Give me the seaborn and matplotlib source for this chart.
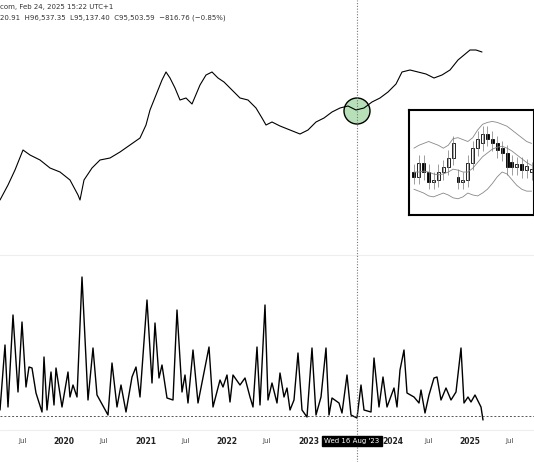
import numpy as np
import matplotlib.pyplot as plt
import seaborn as sns
from matplotlib.patches import Ellipse, Rectangle

sns.set_theme(style="white")
plt.rcParams['font.family'] = ['DejaVu Sans']

W, H = 534, 462

# price path (x pixel, y pixel)
price_x = [0, 8, 15, 23, 30, 40, 50, 60, 70, 78, 80, 84, 92, 100, 110, 120, 130, 140, 146, 150, 156, 162, 166, 170,
           175, 180, 186, 192, 200, 206, 212, 218, 224, 232, 240, 248, 256, 262, 266, 272, 280, 290, 300, 308,
           316, 324, 332, 340, 348, 356, 364, 372, 380, 388, 396, 402, 410, 418, 426, 434, 442, 450, 458, 464,
           470, 476, 482]
price_y = [200, 185, 170, 150, 155, 160, 168, 172, 180, 195, 200, 180, 168, 160, 158, 152, 145, 138, 125, 110, 95,
           80, 72, 78, 88, 100, 98, 104, 85, 75, 72, 78, 82, 90, 98, 100, 108, 118, 125, 122, 126, 130, 134, 130,
           122, 118, 112, 108, 106, 110, 108, 102, 98, 92, 84, 72, 70, 72, 74, 78, 75, 70, 60, 55, 50, 50, 52]

# oscillator
osc_x = [0, 5, 8, 13, 18, 22, 26, 29, 32, 36, 42, 44, 47, 51, 54, 56, 62, 68, 70, 73, 77, 82, 88, 93, 97, 108, 112,
         117, 121, 126, 132, 136, 140, 147, 152, 155, 159, 162, 167, 173, 177, 182, 185, 188, 193, 198, 209, 213,
         220, 223, 227, 230, 233, 240, 245, 250, 253, 257, 260, 265, 268, 272, 277, 280, 284, 287, 290, 294,
         298, 302, 307, 312, 316, 321, 326, 329, 332, 339, 342, 347, 351, 357, 361, 364, 371, 374, 379, 383,
         387, 394, 397, 400, 404, 407, 414, 419, 421, 425, 429, 434, 437, 441, 446, 451, 456, 461, 464, 468,
         471, 475, 481, 483]
osc_y = [410, 345, 407, 315, 392, 322, 387, 367, 368, 393, 412, 357, 410, 372, 405, 368, 407, 372, 397, 385, 397,
         277, 400, 348, 395, 415, 363, 407, 385, 412, 377, 367, 397, 300, 383, 323, 378, 365, 398, 400, 310, 392,
         375, 403, 350, 403, 347, 407, 380, 387, 375, 402, 375, 385, 378, 397, 407, 347, 405, 305, 400, 383, 403,
         373, 397, 388, 410, 400, 353, 410, 417, 348, 415, 397, 348, 415, 398, 403, 413, 375, 415, 418, 385, 410,
         412, 358, 407, 377, 407, 388, 407, 370, 350, 393, 397, 403, 390, 413, 395, 378, 377, 400, 388, 400, 392,
         348, 403, 397, 402, 395, 407, 420]

years = ["2020", "2021", "2022", "2023", "2024", "2025"]
year_px = [64, 146, 227, 309, 393, 470]
jul_px = [23, 104, 186, 267, 429, 510]

# inset candles (open, close) and bands in inset units
c_open = [4, 3.5, 5, 4, 3, 3.2, 4, 4.5, 5.5, 3.5, 3, 3.2, 5, 6.5, 7, 8, 7.5, 7, 6.5, 6, 5, 4.5, 4.8, 4.2, 4]
c_close = [3.5, 5, 4, 3, 3.2, 4, 4.5, 5.5, 7, 3, 3.2, 5, 6.5, 7.5, 8, 7.5, 7, 6.3, 6, 4.5, 4.5, 4.8, 4.2, 4.6, 4.3]
upper = [6.5, 6.8, 7, 7.2, 7, 6.8, 6.5, 6.8, 7.5, 7.6, 7.4, 7.2, 7.6, 8.4, 9, 9.2, 9.3, 9.2, 9, 8.8, 8.4, 8, 7.6, 7.2, 7]
middle = [4, 4, 4.1, 4, 3.8, 3.7, 3.8, 4, 4.3, 4.2, 4, 4, 4.4, 5, 5.6, 6, 6.4, 6.6, 6.7, 6.5, 6.2, 5.8, 5.4, 5, 4.7]
lower = [2.2, 2, 1.8, 1.5, 1.4, 1.6, 1.8, 1.6, 1.3, 1.2, 1.4, 1.8, 1.6, 1.5, 1.8, 2.2, 2.8, 3.5, 4, 3.8, 3.2, 2.6, 2.2, 2, 2]

def yr(px):
    return 2019.21 + np.asarray(px) / 81.0

fig = plt.figure(figsize=(W / 100, H / 100), dpi=100)
ax = fig.add_axes([0, 0, 1, 1])
ax.set_xlim(yr(0), yr(W))
ax.set_ylim(H, 0)
ax.axis("off")

# highlight circle under the price line
ax.add_patch(Ellipse((yr(357), 111), 26 / 81.0, 26, fc="#b7e0b9", ec="black", lw=1, zorder=1))

sns.lineplot(x=yr(price_x), y=price_y, ax=ax, color="black", linewidth=0.8, sort=False, zorder=3)
sns.lineplot(x=yr(osc_x), y=osc_y, ax=ax, color="black", linewidth=1.0, sort=False)

ax.axhline(416, color="#555555", linestyle=(0, (2, 2)), linewidth=0.7)
ax.axhline(255, color="#eeeeee", linewidth=0.8)
ax.axhline(430, color="#eeeeee", linewidth=0.8)
ax.axvline(yr(357), color="#777777", linestyle=(0, (1, 1.5)), linewidth=0.8)

for p, t in zip(year_px, years):
    ax.text(yr(p), 441, t, ha="center", va="center", fontsize=5.5, fontweight="bold", color="#222222")
for p in jul_px:
    ax.text(yr(p), 441, "Jul", ha="center", va="center", fontsize=5, color="#444444")
ax.text(yr(352), 441, "Wed 16 Aug '23", ha="center", va="center", fontsize=5, color="white", zorder=5,
        bbox=dict(boxstyle="square,pad=0.3", fc="black", ec="black"))

ax.text(yr(0), 7, "com, Feb 24, 2025 15:22 UTC+1", fontsize=5, va="center", color="#333333")
ax.text(yr(0), 18, "20.91  H96,537.35  L95,137.40  C95,503.59  \u2212816.76 (\u22120.85%)",
        fontsize=5, va="center", color="#333333")

# inset box
ins = fig.add_axes([409 / W, 1 - 215 / H, 125 / W, 105 / H])
ins.set_xticks([]); ins.set_yticks([])
for s in ins.spines.values():
    s.set_linewidth(1.5); s.set_color("black")
idx = np.arange(len(c_open))
sns.lineplot(x=idx, y=upper, ax=ins, color="#888888", linewidth=0.6)
sns.lineplot(x=idx, y=middle, ax=ins, color="#888888", linewidth=0.6)
sns.lineplot(x=idx, y=lower, ax=ins, color="#888888", linewidth=0.6)
for i, (o, c) in enumerate(zip(c_open, c_close)):
    lo, hi = min(o, c), max(o, c)
    ins.vlines(i, lo - 0.8, hi + 0.8, color="#777777", linewidth=0.5)
    ins.add_patch(Rectangle((i - 0.3, lo), 0.6, hi - lo, fc="black" if c < o else "white", ec="black", lw=0.6))
ins.set_xlim(-1, len(c_open) - 0.5)
ins.set_ylim(-0.5, 10.5)

fig.savefig("out.png", dpi=100)
